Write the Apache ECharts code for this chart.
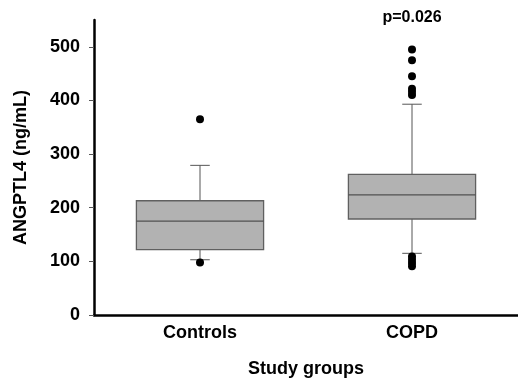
<!DOCTYPE html>
<html>
<head>
<meta charset="utf-8">
<script src="https://cdn.jsdelivr.net/npm/echarts@6/dist/echarts.min.js"></script>
<style>html,body{margin:0;padding:0;background:#fff;}#c{width:518px;height:380px;}</style>
</head>
<body>
<div id="c"></div>
<script>
var categories = ['Controls', 'COPD'];
var lowerWhisker = [103, 115];
var q1 = [122, 179];
var median = [175, 224];
var q3 = [213, 262];
var upperWhisker = [279, 393];
var outliersControls = [365, 98];
var outliersCOPD = [495, 475, 445, 422, 416, 410, 109, 103, 97, 91];
var yTicks = [0, 100, 200, 300, 400, 500];
var pText = 'p=0.026';

var boxData = categories.map(function (c, i) {
  return [i, lowerWhisker[i], q1[i], median[i], q3[i], upperWhisker[i]];
});
var outlierData = [];
outliersControls.forEach(function (v) { outlierData.push([0, v]); });
outliersCOPD.forEach(function (v) { outlierData.push([1, v]); });

var font = '"Liberation Sans", Arial, sans-serif';
var chart = echarts.init(document.getElementById('c'), null, {renderer: 'canvas'});
chart.setOption({
  animation: false,
  grid: {left: 94, right: 0, top: 20, bottom: 65, containLabel: false, outerBoundsMode: 'none'},
  xAxis: {
    type: 'category',
    data: categories,
    name: 'Study groups',
    nameLocation: 'middle',
    nameGap: 45,
    nameTextStyle: {fontFamily: font, fontWeight: 'bold', fontSize: 18, color: '#000'},
    axisLine: {lineStyle: {color: '#000', width: 2.5}},
    axisTick: {alignWithLabel: true, length: 4, lineStyle: {color: '#555', width: 1}},
    axisLabel: {fontFamily: font, fontWeight: 'bold', fontSize: 18, color: '#000', margin: 9}
  },
  yAxis: {
    type: 'value',
    min: 0,
    max: 550,
    interval: 50,
    name: 'ANGPTL4 (ng/mL)',
    nameLocation: 'middle',
    nameGap: 64,
    nameRotate: 90,
    nameTextStyle: {fontFamily: font, fontWeight: 'bold', fontSize: 18, color: '#000'},
    axisLine: {show: true, lineStyle: {color: '#000', width: 2.5}},
    axisTick: {show: true, length: 5, customValues: yTicks, lineStyle: {color: '#555', width: 1}},
    axisLabel: {fontFamily: font, fontWeight: 'bold', fontSize: 18, color: '#000', margin: 14, customValues: yTicks},
    splitLine: {show: false}
  },
  series: [
    {
      type: 'custom',
      data: boxData,
      encode: {x: 0, y: [1, 2, 3, 4, 5]},
      renderItem: function (params, api) {
        var idx = api.value(0);
        var band = api.size([1, 0])[0];
        var bw = band * 0.6;
        var cw = band * 0.046;
        var pLw = api.coord([idx, api.value(1)]);
        var pQ1 = api.coord([idx, api.value(2)]);
        var pMed = api.coord([idx, api.value(3)]);
        var pQ3 = api.coord([idx, api.value(4)]);
        var pUw = api.coord([idx, api.value(5)]);
        var x = pMed[0];
        var lineStyle = {stroke: '#555', lineWidth: 1};
        return {
          type: 'group',
          children: [
            {type: 'line', shape: {x1: x, y1: pQ3[1], x2: x, y2: pUw[1]}, style: lineStyle},
            {type: 'line', shape: {x1: x, y1: pQ1[1], x2: x, y2: pLw[1]}, style: lineStyle},
            {type: 'line', shape: {x1: x - cw, y1: pUw[1], x2: x + cw, y2: pUw[1]}, style: lineStyle},
            {type: 'line', shape: {x1: x - cw, y1: pLw[1], x2: x + cw, y2: pLw[1]}, style: lineStyle},
            {type: 'rect', shape: {x: x - bw / 2, y: pQ3[1], width: bw, height: pQ1[1] - pQ3[1]},
              style: {fill: '#b2b2b2', stroke: '#606060', lineWidth: 1.3}},
            {type: 'line', shape: {x1: x - bw / 2, y1: pMed[1], x2: x + bw / 2, y2: pMed[1]},
              style: {stroke: '#505050', lineWidth: 1.3}}
          ]
        };
      }
    },
    {
      type: 'scatter',
      data: outlierData,
      symbol: 'circle',
      symbolSize: 8,
      itemStyle: {color: '#000', opacity: 1},
      markPoint: {
        symbol: 'circle', symbolSize: 1,
        itemStyle: {color: 'rgba(0,0,0,0)'},
        data: [{coord: [1, 550], value: pText}],
        label: {show: true, position: 'inside', offset: [0, -2], formatter: pText, fontFamily: font, fontWeight: 'bold', fontSize: 16, color: '#000'}
      }
    }
  ]
});
</script>
</body>
</html>
